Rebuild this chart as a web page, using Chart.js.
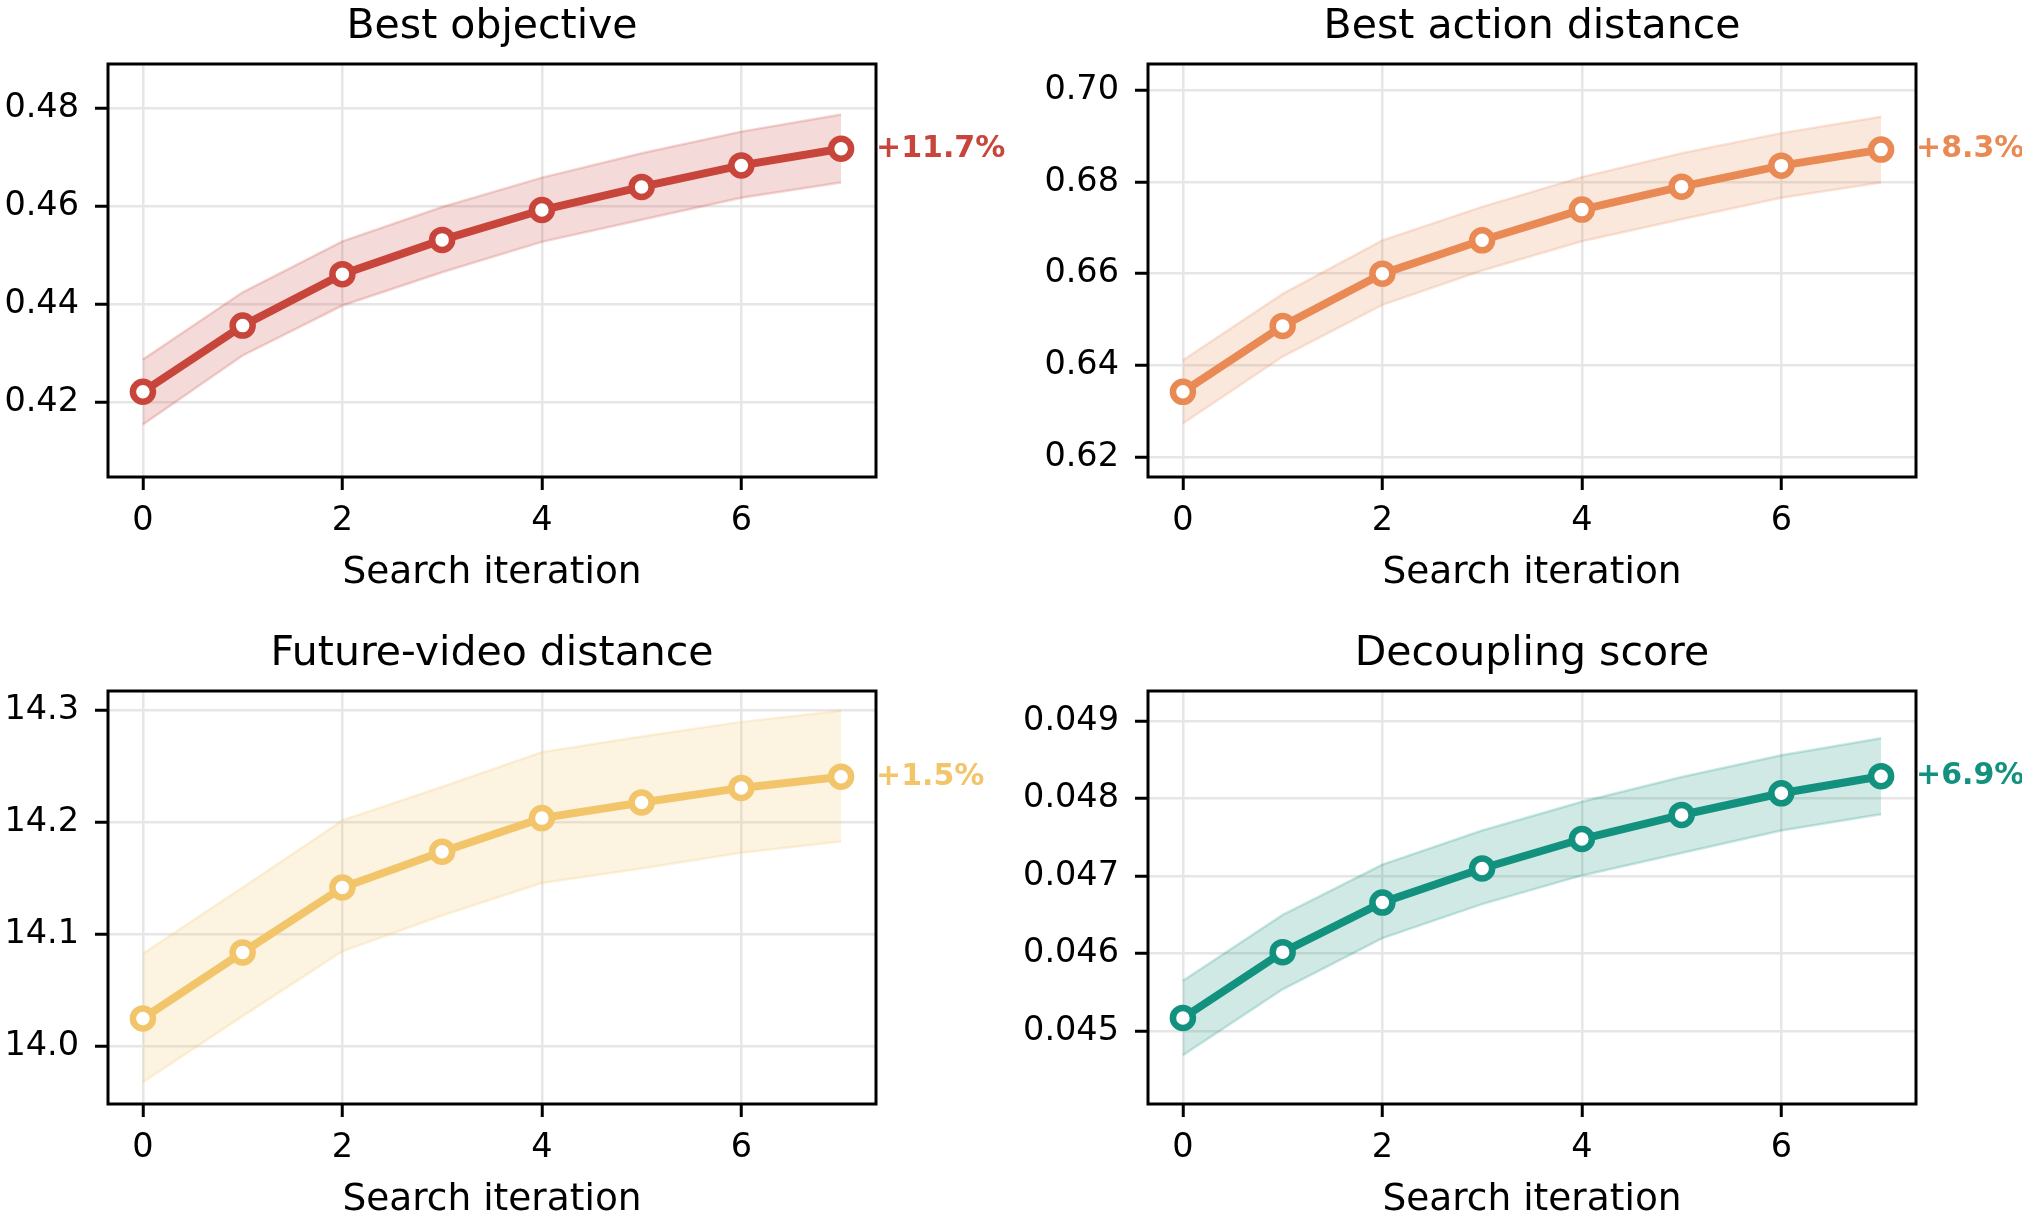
<!DOCTYPE html>
<html lang="en">
<head>
<meta charset="utf-8">
<title>Search iteration</title>
<script src="https://cdn.jsdelivr.net/npm/chart.js@4.4.1/dist/chart.umd.min.js"></script>
<style>
    html, body { margin: 0; padding: 0; background: #ffffff; }
    #lienzo { position: relative; width: 2022px; height: 1217px; overflow: hidden; }
    canvas { position: absolute; }
</style>
</head>
<body>
<div id="lienzo">
    <canvas id="graficoObjetivo" width="1011" height="590" style="left:0px;top:0px"></canvas>
    <canvas id="graficoAccion" width="1011" height="590" style="left:1011px;top:0px"></canvas>
    <canvas id="graficoVideo" width="1011" height="590" style="left:0px;top:627px"></canvas>
    <canvas id="graficoDesacople" width="1011" height="590" style="left:1011px;top:627px"></canvas>
</div>
<script>
// Datos
const iteraciones = [0, 1, 2, 3, 4, 5, 6, 7];
const ticksX = [0, 2, 4, 6];

const objetivoMedia = [0.4222, 0.4357, 0.4462, 0.4532, 0.4593, 0.4640, 0.4684, 0.4718];
const objetivoSup = [0.4288, 0.4425, 0.4529, 0.4599, 0.4659, 0.4709, 0.4753, 0.4788];
const objetivoInf = [0.4155, 0.4296, 0.4398, 0.4466, 0.4528, 0.4573, 0.4618, 0.4649];
const ticksObjetivo = [0.42, 0.44, 0.46, 0.48];
const etiquetasObjetivo = ['0.42', '0.44', '0.46', '0.48'];

const accionMedia = [0.6342, 0.6486, 0.6600, 0.6673, 0.6740, 0.6790, 0.6836, 0.6871];
const accionSup = [0.6411, 0.6556, 0.6673, 0.6746, 0.6811, 0.6863, 0.6907, 0.6943];
const accionInf = [0.6273, 0.6419, 0.6532, 0.6607, 0.6671, 0.6719, 0.6766, 0.6799];
const ticksAccion = [0.62, 0.64, 0.66, 0.68, 0.70];
const etiquetasAccion = ['0.62', '0.64', '0.66', '0.68', '0.70'];

const videoMedia = [14.025, 14.084, 14.142, 14.174, 14.204, 14.218, 14.231, 14.241];
const videoSup = [14.083, 14.142, 14.202, 14.232, 14.263, 14.277, 14.290, 14.300];
const videoInf = [13.968, 14.027, 14.085, 14.117, 14.146, 14.159, 14.173, 14.183];
const ticksVideo = [14.0, 14.1, 14.2, 14.3];
const etiquetasVideo = ['14.0', '14.1', '14.2', '14.3'];

const desacopleMedia = [0.04517, 0.04602, 0.04666, 0.04710, 0.04748, 0.04779, 0.04807, 0.04829];
const desacopleSup = [0.04565, 0.04650, 0.04715, 0.04759, 0.04796, 0.04828, 0.04856, 0.04878];
const desacopleInf = [0.04469, 0.04554, 0.04620, 0.04664, 0.04701, 0.04730, 0.04759, 0.04780];
const ticksDesacople = [0.045, 0.046, 0.047, 0.048, 0.049];
const etiquetasDesacople = ['0.045', '0.046', '0.047', '0.048', '0.049'];

const titulos = ['Best objective', 'Best action distance', 'Future-video distance', 'Decoupling score'];
const etiquetasMejora = ['+11.7%', '+8.3%', '+1.5%', '+6.9%'];
const colores = ['#C8453B', '#E98A55', '#F2C56B', '#13917F'];

Chart.defaults.font.family = '"DejaVu Sans", sans-serif';
Chart.defaults.color = '#000000';

// Convierte un color hex a rgba con transparencia
function hexARgba(hex, alfa) {
    const r = parseInt(hex.slice(1, 3), 16);
    const g = parseInt(hex.slice(3, 5), 16);
    const b = parseInt(hex.slice(5, 7), 16);
    return `rgba(${r}, ${g}, ${b}, ${alfa})`;
}

// Plugin: titulo centrado sobre el area, marco negro y etiqueta de mejora al final de la linea
const marcoYEtiqueta = {
    id: 'marcoYEtiqueta',
    afterDatasetsDraw(chart, args, opciones) {
        const { ctx, chartArea, scales } = chart;
        ctx.save();
        ctx.strokeStyle = '#000000';
        ctx.lineWidth = 3;
        ctx.strokeRect(chartArea.left, chartArea.top, chartArea.right - chartArea.left, chartArea.bottom - chartArea.top);

        // Titulo del panel
        ctx.font = '41px "DejaVu Sans"';
        ctx.fillStyle = '#000000';
        ctx.textAlign = 'center';
        ctx.textBaseline = 'middle';
        ctx.fillText(opciones.titulo, (chartArea.left + chartArea.right) / 2, 27.5);

        // Porcentaje de mejora
        const media = chart.data.datasets[0].data;
        const ultimo = media[media.length - 1];
        const x = scales.x.getPixelForValue(iteraciones[iteraciones.length - 1]) + 35;
        const y = scales.y.getPixelForValue(ultimo);
        ctx.font = 'bold 30px "DejaVu Sans"';
        ctx.fillStyle = opciones.color;
        ctx.textAlign = 'left';
        ctx.fillText(opciones.texto, x, y);
        ctx.restore();
    }
};

function crearGrafico(idCanvas, indice, media, sup, inf, yMin, yMax, ticksY, etiquetasY, izquierda, derecha) {
    const color = colores[indice];
    const ctx = document.getElementById(idCanvas);
    return new Chart(ctx, {
        type: 'line',
        data: {
            labels: iteraciones,
            datasets: [
                {
                    data: media,
                    borderColor: color,
                    borderWidth: 8,
                    tension: 0,
                    fill: false,
                    pointRadius: 10,
                    pointBorderWidth: 6.5,
                    pointBackgroundColor: '#ffffff',
                    pointBorderColor: color
                },
                {
                    data: inf,
                    borderColor: hexARgba(color, 0.22),
                    borderWidth: 2.5,
                    tension: 0,
                    fill: false,
                    pointRadius: 0
                },
                {
                    data: sup,
                    borderColor: hexARgba(color, 0.22),
                    borderWidth: 2.5,
                    backgroundColor: hexARgba(color, 0.2),
                    tension: 0,
                    fill: '-1',
                    pointRadius: 0
                }
            ]
        },
        options: {
            responsive: false,
            animation: false,
            events: [],
            layout: { padding: { left: 0, right: derecha, top: 64, bottom: 0 } },
            plugins: {
                legend: { display: false },
                tooltip: { enabled: false },
                title: { display: false },
                marcoYEtiqueta: { color: color, texto: etiquetasMejora[indice], titulo: titulos[indice] }
            },
            scales: {
                x: {
                    type: 'linear',
                    min: -0.35,
                    max: 7.35,
                    afterBuildTicks: eje => { eje.ticks = ticksX.map(v => ({ value: v })); },
                    afterFit: eje => { eje.height = 113; },
                    border: { display: false },
                    grid: { color: '#e6e6e6', lineWidth: 2.5, drawTicks: true, tickLength: 13, tickColor: '#000000', tickWidth: 3 },
                    ticks: { color: '#000000', font: { size: 33.5 }, padding: 11.5, maxRotation: 0, autoSkip: false, callback: v => String(v) },
                    title: {
                        display: true,
                        text: 'Search iteration',
                        color: '#000000',
                        font: { size: 37.5, lineHeight: 0.9 },
                        padding: { top: 0, bottom: 0 }
                    }
                },
                y: {
                    min: yMin,
                    max: yMax,
                    afterBuildTicks: eje => { eje.ticks = ticksY.map(v => ({ value: v })); },
                    afterFit: eje => { eje.width = izquierda; },
                    border: { display: false },
                    grid: { color: '#e6e6e6', lineWidth: 2.5, drawTicks: true, tickLength: 13, tickColor: '#000000', tickWidth: 3 },
                    ticks: { color: '#000000', font: { size: 33.5 }, padding: 16, autoSkip: false, callback: (v, i) => etiquetasY[i] }
                }
            }
        },
        plugins: [marcoYEtiqueta]
    });
}

window.onload = function () {
    crearGrafico('graficoObjetivo', 0, objetivoMedia, objetivoSup, objetivoInf, 0.4048, 0.4891, ticksObjetivo, etiquetasObjetivo, 108, 135);
    crearGrafico('graficoAccion', 1, accionMedia, accionSup, accionInf, 0.6156, 0.7058, ticksAccion, etiquetasAccion, 137, 106);
    crearGrafico('graficoVideo', 2, videoMedia, videoSup, videoInf, 13.9485, 14.3176, ticksVideo, etiquetasVideo, 108, 135);
    crearGrafico('graficoDesacople', 3, desacopleMedia, desacopleSup, desacopleInf, 0.04406, 0.04939, ticksDesacople, etiquetasDesacople, 137, 106);
};
</script>
</body>
</html>
